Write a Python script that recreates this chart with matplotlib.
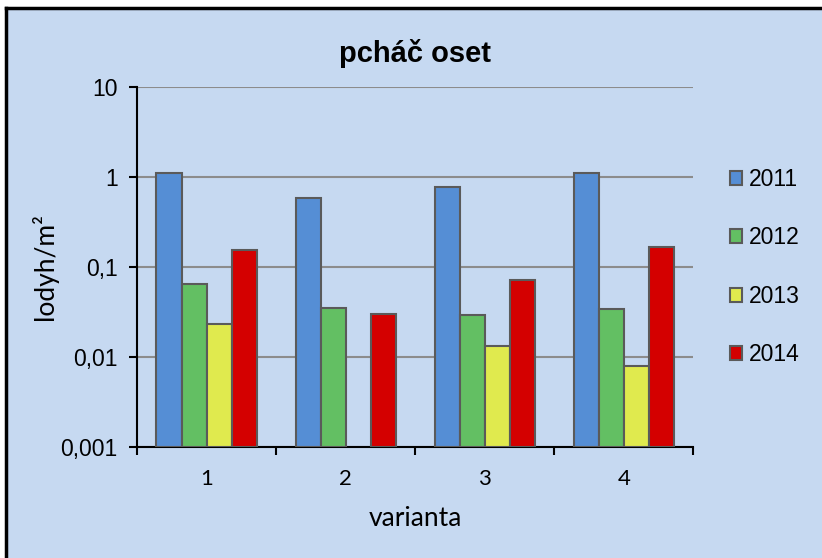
import numpy as np
import matplotlib
matplotlib.use('Agg')
import matplotlib.pyplot as plt
from matplotlib.patches import Rectangle
from matplotlib.lines import Line2D

variants = ['1', '2', '3', '4']
years = ['2011', '2012', '2013', '2014']
v2011 = [1.10, 0.59, 0.77, 1.11]
v2012 = [0.064, 0.035, 0.029, 0.034]
v2013 = [0.0234, np.nan, 0.0131, 0.0079]
v2014 = [0.154, 0.030, 0.071, 0.168]
colors = ['#558ED5', '#63BF63', '#E0EA4E', '#D40000']

plt.rcParams['font.family'] = ['Liberation Sans', 'DejaVu Sans']
calibri_like = ['Lato', 'DejaVu Sans']

bg = '#C6D9F1'
fig = plt.figure(figsize=(8.22, 5.58), dpi=100)
fig.patch.set_facecolor('white')
# chart area background with top/left frame
fig.patches.append(Rectangle((7 / 822, 0), 1, 1 - 9 / 558, transform=fig.transFigure,
                             facecolor=bg, edgecolor='none', zorder=-5))
fig.lines.append(Line2D([6 / 822, 6 / 822], [0, 1 - 8 / 558], transform=fig.transFigure,
                        color='black', lw=2.5, zorder=-4))
fig.lines.append(Line2D([6 / 822, 1], [1 - 8 / 558, 1 - 8 / 558], transform=fig.transFigure,
                        color='black', lw=2.5, zorder=-4))

ax = fig.add_axes([137 / 822, 1 - 446.7 / 558, (693.3 - 137) / 822, (446.7 - 87.3) / 558])
ax.patch.set_alpha(0)

x = np.arange(len(variants))
width = 0.18
offsets = [-0.27, -0.09, 0.09, 0.27]
series = [v2011, v2012, v2013, v2014]
for vals, off, col, yr in zip(series, offsets, colors, years):
    ax.bar(x + off, np.array(vals) - 0.001, width, bottom=0.001, color=col,
           edgecolor='#5A5A5A', linewidth=1.5, label=yr, zorder=3)

ax.set_yscale('log')
ax.set_ylim(0.001, 10)
ax.set_xlim(-0.5, 3.5)
ax.set_yticks([0.001, 0.01, 0.1, 1, 10])
ax.set_yticklabels(['0,001', '0,01', '0,1', '1', '10'])
ax.yaxis.set_minor_locator(matplotlib.ticker.NullLocator())
ax.grid(axis='y', which='major', color='#8C8C8C', linewidth=1.5, zorder=1)

ax.set_xticks(np.arange(-0.5, 4, 1))
ax.set_xticklabels([])
ax.set_xticks(x, minor=True)
ax.set_xticklabels(variants, minor=True, family=calibri_like)
ax.tick_params(axis='x', which='minor', length=0, pad=16, labelsize=16)
ax.tick_params(axis='x', which='major', length=6, width=1.5, direction='out')
ax.tick_params(axis='y', which='major', length=6, width=1.5, direction='out', labelsize=16.5, pad=8)

for s in ['top', 'right']:
    ax.spines[s].set_visible(False)
for s in ['left', 'bottom']:
    ax.spines[s].set_linewidth(1.5)

ax.set_title('pcháč oset', fontsize=21, fontweight='bold', pad=18)
ax.set_xlabel('varianta', fontsize=19, labelpad=12, family=calibri_like)
ax.set_ylabel('lodyh/m²', fontsize=19, labelpad=2, family=calibri_like)

handles = [Rectangle((0, 0), 1, 1, facecolor=c, edgecolor='#5A5A5A', linewidth=1.5) for c in colors]
fig.legend(handles, years, loc='center left', bbox_to_anchor=(709 / 822, 1 - 267 / 558),
           frameon=False, fontsize=16.5, handlelength=0.55, handleheight=0.55,
           handletextpad=0.3, labelspacing=1.55)

fig.savefig('out.png', dpi=100, facecolor=fig.get_facecolor())
